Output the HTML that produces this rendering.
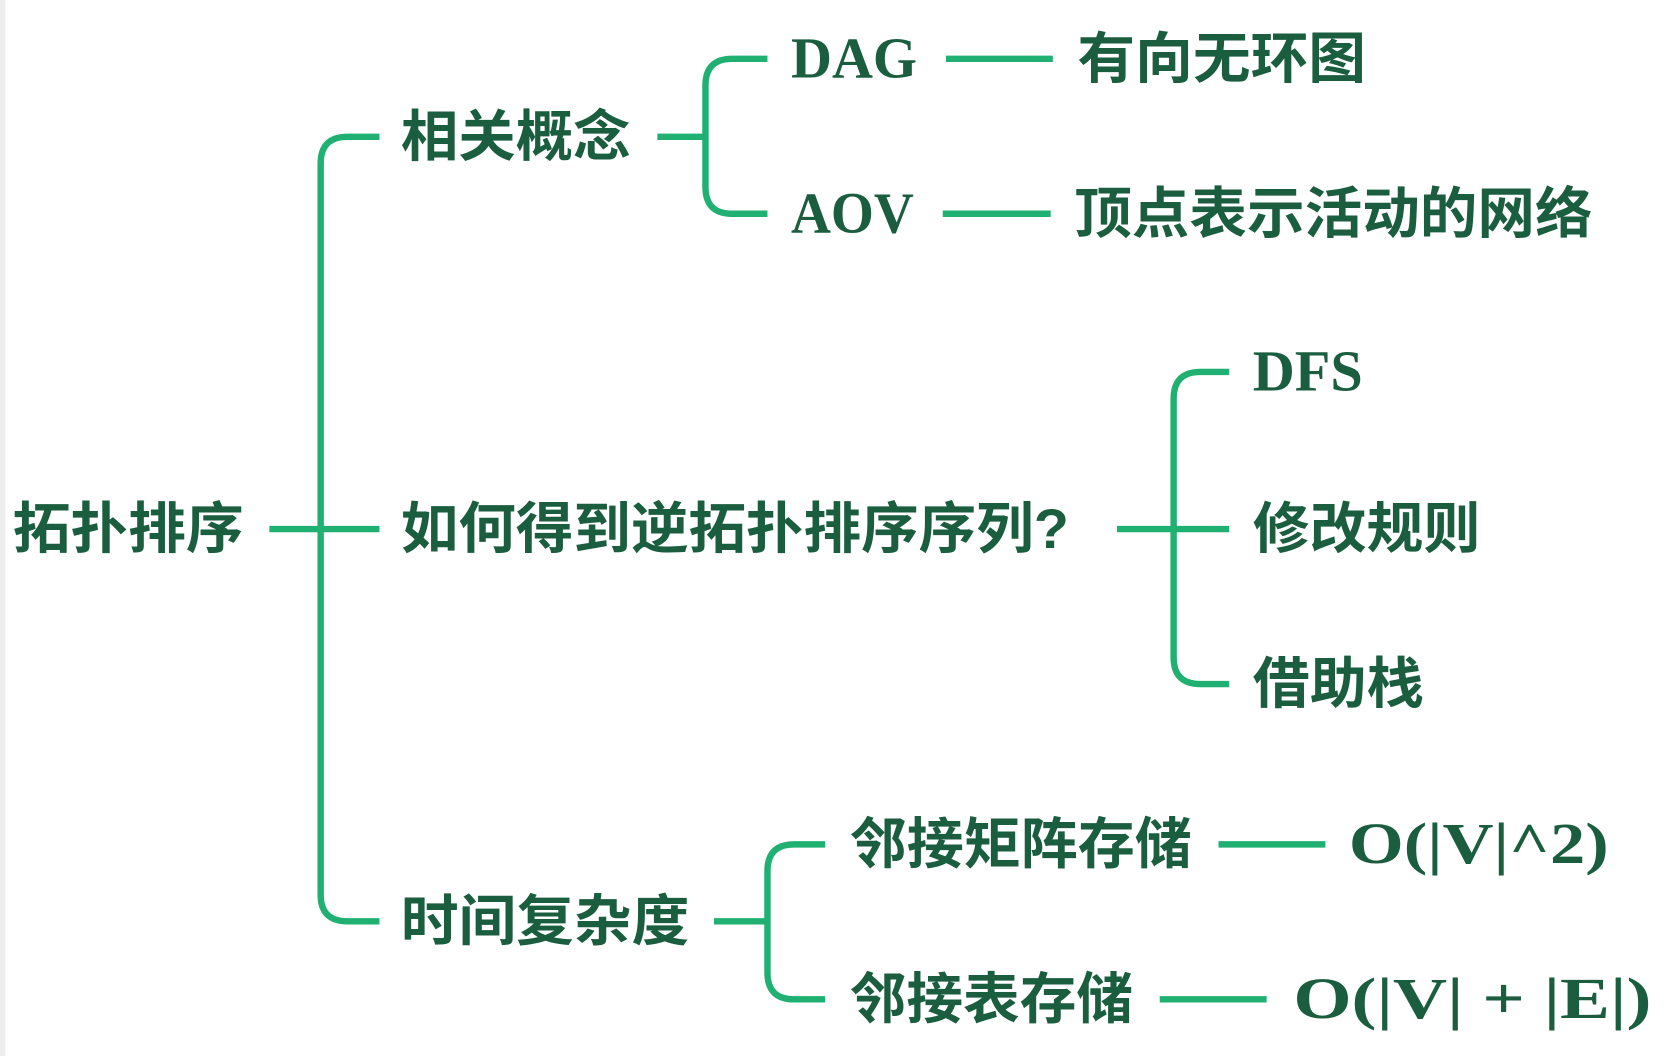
<!DOCTYPE html>
<html><head><meta charset="utf-8"><style>
html,body{margin:0;padding:0;background:#fff;}
svg{display:block}
.c{font-family:"Liberation Sans","Noto Sans CJK SC",sans-serif;font-weight:bold;font-size:52px;fill:#1b5e3f}
.l{font-family:"Liberation Serif",serif;font-weight:bold;font-size:54px;fill:#1b5e3f}
.ln{fill:none;stroke:#1fb072;stroke-width:6;stroke-linecap:butt}
</style></head><body>
<svg width="1676" height="1056" viewBox="0 0 1568 988" preserveAspectRatio="none">
<rect x="0" y="0" width="5" height="988" fill="#ededed"/>
<g class="ln">
<path d="M252 495H355"/>
<path d="M355 128H325Q300 128 300 153V837Q300 862 325 862H355"/>
<path d="M615 128H660"/>
<path d="M718 55H685Q660 55 660 80V175Q660 200 685 200H718"/>
<path d="M885 55H985"/><path d="M882 200H983"/>
<path d="M1045 495H1150"/>
<path d="M1150 348H1123Q1098 348 1098 373V615Q1098 640 1123 640H1150"/>
<path d="M668 862H718"/>
<path d="M772 790H743Q718 790 718 815V910Q718 935 743 935H772"/>
<path d="M1140 790H1240"/><path d="M1085 935H1185"/>
</g>
<g dominant-baseline="central">
<text class="c" x="12" y="495" textLength="216" lengthAdjust="spacingAndGlyphs">拓扑排序</text>
<text class="c" x="375" y="128" textLength="215" lengthAdjust="spacingAndGlyphs">相关概念</text>
<text class="l" x="740" y="55" textLength="118" lengthAdjust="spacingAndGlyphs">DAG</text>
<text class="c" x="1008" y="55" textLength="270" lengthAdjust="spacingAndGlyphs">有向无环图</text>
<text class="l" x="740" y="200" textLength="115" lengthAdjust="spacingAndGlyphs">AOV</text>
<text class="c" x="1005" y="200" textLength="485" lengthAdjust="spacingAndGlyphs">顶点表示活动的网络</text>
<text class="c" x="375" y="495" textLength="625" lengthAdjust="spacingAndGlyphs">如何得到逆拓扑排序序列?</text>
<text class="l" x="1172" y="348" textLength="103" lengthAdjust="spacingAndGlyphs">DFS</text>
<text class="c" x="1172" y="495" textLength="213" lengthAdjust="spacingAndGlyphs">修改规则</text>
<text class="c" x="1172" y="640" textLength="160" lengthAdjust="spacingAndGlyphs">借助栈</text>
<text class="c" x="375" y="862" textLength="270" lengthAdjust="spacingAndGlyphs">时间复杂度</text>
<text class="c" x="795" y="790" textLength="320" lengthAdjust="spacingAndGlyphs">邻接矩阵存储</text>
<text class="l" x="1262" y="790" textLength="243" lengthAdjust="spacingAndGlyphs">O(|V|^2)</text>
<text class="c" x="795" y="935" textLength="265" lengthAdjust="spacingAndGlyphs">邻接表存储</text>
<text class="l" x="1210" y="935" textLength="335" lengthAdjust="spacingAndGlyphs">O(|V| + |E|)</text>
</g>
</svg>
</body></html>
